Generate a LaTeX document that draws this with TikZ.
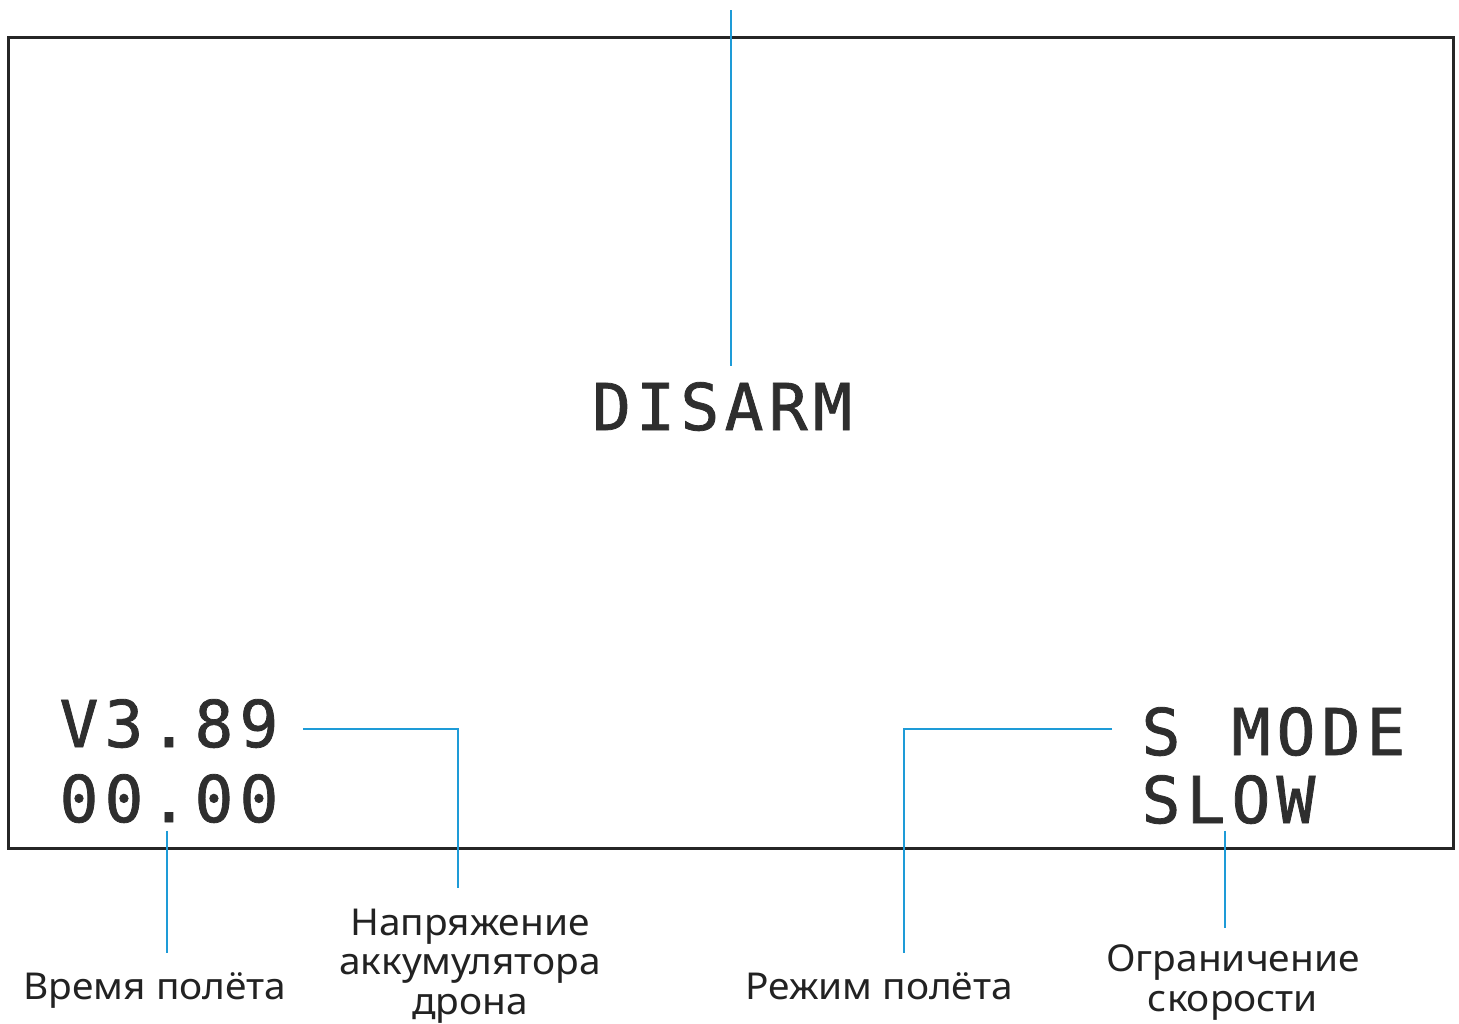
\documentclass[tikz,border=0pt]{standalone}
\usepackage{fontspec}
\setmainfont{Noto Sans}[FakeStretch=1.05]
\newfontfamily\osdfont{DejaVu Sans Mono}[FakeBold=1.2]
\usetikzlibrary{calc}
\definecolor{osdgray}{HTML}{2E2E2E}
\definecolor{framegray}{HTML}{262626}
\definecolor{lblgray}{HTML}{222222}
\definecolor{callout}{HTML}{1E9BD7}
\newlength\ocw
\setlength\ocw{45pt}
\newcommand\oc[1]{\makebox[\ocw][c]{#1}}
\tikzset{
  osd/.style={inner sep=0pt, outer sep=0pt, text=osdgray, font=\osdfont\fontsize{64.5}{64.5}\selectfont},
  lbl/.style={inner sep=0pt, outer sep=0pt, text=lblgray, align=center, font=\fontsize{37}{39.5}\selectfont},
  conn/.style={draw=callout, line width=2pt},
  screenbox/.style={draw=framegray, line width=3pt}
}
\begin{document}
\begin{tikzpicture}[x=1pt,y=-1pt]
\useasboundingbox (0,0) rectangle (1459,1023);
\fill[white] (0,0) rectangle (1459,1023);
\node[screenbox, minimum width=1445pt, minimum height=811pt, inner sep=0pt] (screen) at (730.5,442.5) {};

% OSD texts
\node[osd, anchor=base west] (disarm) at (589.4,430) {\setlength\ocw{44.2pt}\oc{D}\oc{I}\oc{S}\oc{A}\oc{R}\oc{M}};
\node[osd, anchor=base west] (volt) at (56.5,747) {\oc{V}\oc{3}\oc{.}\oc{8}\oc{9}};
\node[osd, anchor=base west] (timer) at (56.5,822) {\oc{0}\oc{0}\oc{.}\oc{0}\oc{0}};
\node[osd, anchor=base west] (smode) at (1138.5,755) {\oc{S}\oc{}\oc{M}\oc{O}\oc{D}\oc{E}};
\node[osd, anchor=base west] (slow) at (1138.5,823) {\oc{S}\oc{L}\oc{O}\oc{W}};

% labels
\node[lbl, anchor=north] (timelbl) at (155,973) {Время полёта};
\node[lbl, anchor=north] (voltlbl) at (470,909) {Напряжение\\аккумулятора\\дрона};
\node[lbl, anchor=north] (modelbl) at (879,973) {Режим полёта};
\node[lbl, anchor=north] (speedlbl) at (1233,945) {Ограничение\\скорости};

% callout geometry
\coordinate (topend) at (731,10);
\coordinate (vb) at (458,729);
\coordinate (mb) at (904,729);
\coordinate (tx) at (167,0);
\coordinate (sx) at (1225,0);

\draw[conn] (topend) -- ($(topend |- disarm.north)+(0,-16)$);
\draw[conn] ($(volt.east |- vb)+(21.5,0)$) -- (vb) -- ($(vb |- voltlbl.north)+(0,-21)$);
\draw[conn] ($(tx |- timer.south)+(0,8)$) -- ($(tx |- timelbl.north)+(0,-20)$);
\draw[conn] ($(smode.west |- mb)+(-26.5,0)$) -- (mb) -- ($(mb |- modelbl.north)+(0,-20)$);
\draw[conn] ($(sx |- slow.south)+(0,7)$) -- ($(sx |- speedlbl.north)+(0,-17)$);
\end{tikzpicture}
\end{document}
